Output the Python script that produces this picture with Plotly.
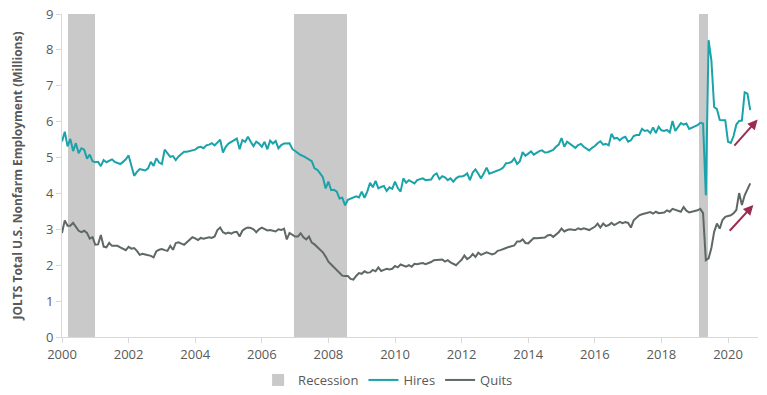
import plotly.graph_objects as go

# Monthly values (millions), starting at the chart's "2000" tick
hires = [
    5.45, 5.72, 5.31, 5.52, 5.18, 5.40, 5.12, 5.26, 5.22, 4.97, 5.08, 4.90,
    4.87, 4.88, 4.76, 4.93, 4.87, 4.90, 4.95, 4.88, 4.85, 4.82, 4.88, 4.95,
    5.06, 4.75, 4.49, 4.60, 4.68, 4.66, 4.64, 4.70, 4.88, 4.77, 4.98, 4.86,
    4.82, 5.22, 5.12, 5.02, 5.04, 4.93, 5.03, 5.10, 5.16, 5.16, 5.18, 5.18,
    5.22, 5.28, 5.30, 5.26, 5.34, 5.36, 5.40, 5.34, 5.42, 5.50, 5.14, 5.30,
    5.39, 5.44, 5.49, 5.53, 5.23, 5.49, 5.44, 5.58, 5.44, 5.32, 5.44, 5.39,
    5.30, 5.44, 5.23, 5.47, 5.39, 5.46, 5.26, 5.35, 5.39, 5.39, 5.40, 5.24,
    5.18, 5.12, 5.07, 5.04, 5.00, 4.95, 4.90, 4.70, 4.66, 4.56, 4.45, 4.14,
    4.33, 4.09, 4.10, 4.05, 3.86, 3.88, 3.67, 3.82, 3.86, 3.90, 3.92, 3.89,
    4.05, 3.88, 4.05, 4.30, 4.17, 4.35, 4.14, 4.18, 4.21, 4.07, 4.17, 4.13,
    4.33, 4.15, 4.05, 4.42, 4.30, 4.37, 4.32, 4.28, 4.37, 4.40, 4.42, 4.37,
    4.38, 4.39, 4.51, 4.56, 4.40, 4.48, 4.45, 4.37, 4.42, 4.33, 4.42, 4.47,
    4.47, 4.50, 4.56, 4.37, 4.58, 4.67, 4.55, 4.42, 4.56, 4.72, 4.55, 4.58,
    4.60, 4.62, 4.67, 4.72, 4.84, 4.85, 4.88, 4.98, 4.82, 4.90, 5.15, 5.05,
    5.10, 5.17, 5.08, 5.14, 5.18, 5.20, 5.14, 5.15, 5.17, 5.21, 5.30, 5.36,
    5.54, 5.30, 5.44, 5.38, 5.32, 5.27, 5.35, 5.38, 5.30, 5.25, 5.20, 5.27,
    5.32, 5.40, 5.45, 5.36, 5.38, 5.34, 5.66, 5.53, 5.55, 5.48, 5.55, 5.58,
    5.44, 5.48, 5.60, 5.63, 5.63, 5.80, 5.74, 5.76, 5.68, 5.84, 5.68, 5.86,
    5.76, 5.74, 5.77, 5.70, 6.02, 5.74, 5.86, 5.96, 5.92, 5.95, 5.80, 5.84,
    5.88, 5.90, 5.97, 5.95, 3.95, 8.27, 7.71, 6.41, 6.35, 6.05, 6.04, 6.04,
    5.44, 5.41, 5.60, 5.92, 6.02, 6.03, 6.82, 6.78, 6.32,
]

quits = [
    2.90, 3.25, 3.10, 3.10, 3.18, 3.08, 2.96, 2.92, 2.96, 2.90, 2.74, 2.78,
    2.57, 2.58, 2.84, 2.52, 2.50, 2.62, 2.54, 2.54, 2.54, 2.50, 2.46, 2.42,
    2.51, 2.46, 2.48, 2.40, 2.29, 2.32, 2.30, 2.29, 2.26, 2.22, 2.39, 2.43,
    2.45, 2.42, 2.40, 2.54, 2.43, 2.62, 2.64, 2.60, 2.57, 2.64, 2.72, 2.78,
    2.75, 2.70, 2.76, 2.74, 2.76, 2.78, 2.76, 2.80, 2.98, 3.05, 2.92, 2.88,
    2.91, 2.88, 2.92, 2.93, 2.80, 2.96, 3.02, 3.05, 3.04, 3.00, 2.92, 3.00,
    3.05, 3.00, 2.97, 2.98, 2.97, 2.94, 3.00, 2.98, 3.02, 2.72, 2.90, 2.84,
    2.80, 2.80, 2.89, 2.78, 2.72, 2.80, 2.63, 2.58, 2.50, 2.42, 2.36, 2.24,
    2.10, 2.02, 1.94, 1.87, 1.78, 1.71, 1.70, 1.70, 1.62, 1.60, 1.70, 1.78,
    1.76, 1.83, 1.79, 1.80, 1.87, 1.83, 1.94, 1.84, 1.87, 1.90, 1.88, 1.90,
    1.98, 1.94, 2.02, 2.00, 1.96, 2.00, 1.96, 2.04, 2.03, 2.05, 2.06, 2.03,
    2.05, 2.09, 2.14, 2.15, 2.15, 2.16, 2.10, 2.14, 2.08, 2.05, 2.00, 2.08,
    2.15, 2.27, 2.17, 2.22, 2.31, 2.23, 2.35, 2.29, 2.32, 2.36, 2.33, 2.30,
    2.33, 2.40, 2.42, 2.44, 2.48, 2.51, 2.53, 2.55, 2.66, 2.66, 2.72, 2.62,
    2.61, 2.70, 2.76, 2.75, 2.75, 2.75, 2.77, 2.83, 2.85, 2.79, 2.86, 2.92,
    3.02, 2.94, 2.98, 3.00, 2.99, 2.98, 3.03, 3.00, 3.03, 3.01, 2.98, 3.03,
    3.07, 3.16, 3.05, 3.16, 3.09, 3.12, 3.18, 3.12, 3.16, 3.21, 3.17, 3.20,
    3.18, 3.05, 3.25, 3.33, 3.39, 3.42, 3.44, 3.46, 3.48, 3.44, 3.49, 3.45,
    3.45, 3.47, 3.53, 3.49, 3.57, 3.55, 3.52, 3.49, 3.62, 3.52, 3.47, 3.49,
    3.49, 3.53, 3.57, 3.45, 2.14, 2.19, 2.48, 2.93, 3.16, 3.02, 3.26, 3.35,
    3.37, 3.39, 3.45, 3.54, 4.01, 3.68, 3.95, 4.10, 4.28,
]

start_year = 2000
months = [start_year + i / 12 for i in range(len(hires))]

# Recession shading (chart x positions)
rec_start = [2000.18, 2006.97, 2019.13]
rec_end = [2000.99, 2008.56, 2019.40]
rec_top = 9

tick_years = list(range(2000, 2021, 2))

# Trend arrows: (x_start, y_start, x_end, y_end)
arrow_x0 = [2020.15, 2020.01]
arrow_y0 = [5.29, 2.92]
arrow_x1 = [2020.89, 2020.76]
arrow_y1 = [6.06, 3.68]

TEAL = "#1AA3AA"
GREY = "#5E6866"
SHADE = "#C9C9C9"
MAROON = "#9C2B52"
TXT = "#595959"
AXIS = "#D9D9D9"
FONT = "Open Sans, Noto Sans, sans-serif"

fig = go.Figure()
fig.add_trace(go.Bar(
    x=[(s + e) / 2 for s, e in zip(rec_start, rec_end)],
    y=[rec_top] * len(rec_start),
    width=[e - s for s, e in zip(rec_start, rec_end)],
    marker=dict(color=SHADE, line=dict(width=0)),
    name="Recession",
))
fig.add_trace(go.Scatter(x=months, y=hires, mode="lines", name="Hires",
                         line=dict(color=TEAL, width=2)))
fig.add_trace(go.Scatter(x=months, y=quits, mode="lines", name="Quits",
                         line=dict(color=GREY, width=2)))

for x0, y0, x1, y1 in zip(arrow_x0, arrow_y0, arrow_x1, arrow_y1):
    fig.add_annotation(x=x1, y=y1, ax=x0, ay=y0, xref="x", yref="y",
                       axref="x", ayref="y", showarrow=True, text="",
                       arrowhead=2, arrowsize=1, arrowwidth=2,
                       arrowcolor=MAROON)

fig.update_layout(
    width=767, height=395,
    margin=dict(l=62, r=9, t=14, b=58, autoexpand=False),
    paper_bgcolor="white", plot_bgcolor="white",
    font=dict(family=FONT, color=TXT, size=13),
    bargap=0,
    showlegend=True,
    legend=dict(orientation="h", xref="container", yref="container",
                x=0.506, y=0.038, xanchor="center", yanchor="middle",
                font=dict(size=13, color=TXT), itemwidth=30,
                tracegroupgap=0, traceorder="normal"),
    xaxis=dict(range=[2000, 2020.9], tickvals=tick_years,
               tickformat="d", showgrid=False, zeroline=False,
               showline=True, linecolor=AXIS, linewidth=1,
               ticks="outside", ticklen=5, tickcolor=AXIS,
               tickfont=dict(size=13, color=TXT), automargin=False),
    yaxis=dict(range=[0, 9], dtick=1, showgrid=False, zeroline=False,
               showline=True, linecolor=AXIS, linewidth=1,
               ticks="outside", ticklen=5, tickcolor=AXIS,
               tickfont=dict(size=13, color=TXT), automargin=False,
               title=dict(text="<b>JOLTS Total U.S. Nonfarm Employment (Millions)</b>",
                          font=dict(size=12, color=TXT), standoff=20)),
)

fig.write_html("out.html",
               config={"displayModeBar": False},
               post_script="document.body.style.margin='0px';"
                           "document.body.style.overflow='hidden';")
